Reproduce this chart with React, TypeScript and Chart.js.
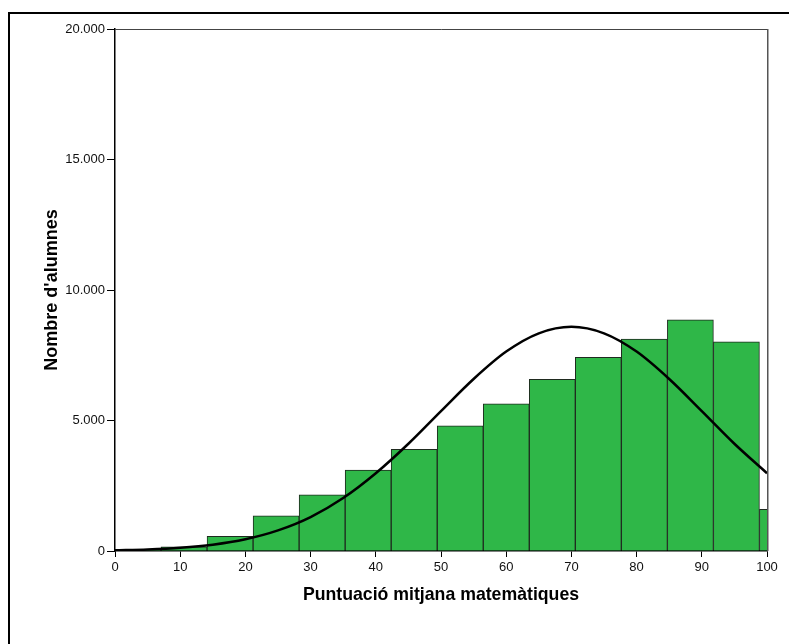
import React, { useEffect, useRef } from 'react';
import { Chart, registerables } from 'chart.js';

Chart.register(...registerables);

// Histogram bins (start of each bin) and counts
const binStarts = [0, 7.06, 14.12, 21.18, 28.24, 35.3, 42.36, 49.42, 56.48, 63.54, 70.6, 77.66, 84.72, 91.78, 98.84];
const binWidth = 7.06;
const binCounts = [30, 160, 560, 1350, 2150, 3100, 3900, 4800, 5640, 6580, 7420, 8120, 8860, 8010, 1600];

// Normal curve
const curveX = [0, 5, 10, 15, 20, 25, 30, 35, 40, 45, 50, 55, 60, 65, 70, 75, 80, 85, 90, 95, 100];
const curveY = [27, 59, 124, 243, 451, 790, 1300, 2030, 2980, 4110, 5360, 6590, 7640, 8340, 8590, 8340, 7640, 6590, 5360, 4110, 2980];

const yTicks = [0, 5000, 10000, 15000, 20000];
const xTicks = [0, 10, 20, 30, 40, 50, 60, 70, 80, 90, 100];

const xTitle = 'Puntuació mitjana matemàtiques';
const yTitle = "Nombre d'alumnes";

const FONT = "'Liberation Sans', Arial, sans-serif";

function fmt(v: number): string {
  const s = Math.round(v).toString();
  return s.replace(/\B(?=(\d{3})+(?!\d))/g, '.');
}

const frameBox = {
  id: 'frameBox',
  afterDatasetsDraw(chart: any) {
    const { ctx, chartArea } = chart;
    ctx.save();
    ctx.strokeStyle = '#444';
    ctx.lineWidth = 1;
    ctx.beginPath();
    ctx.moveTo(chartArea.left, chartArea.top + 0.5);
    ctx.lineTo(chartArea.right + 0.5, chartArea.top + 0.5);
    ctx.stroke();
    ctx.lineWidth = 1.5;
    ctx.strokeStyle = '#555';
    ctx.beginPath();
    ctx.moveTo(chartArea.right + 0.75, chartArea.top);
    ctx.lineTo(chartArea.right + 0.75, chartArea.bottom);
    ctx.stroke();
    ctx.restore();
  },
};

export default function App() {
  const ref = useRef<HTMLCanvasElement | null>(null);

  useEffect(() => {
    if (!ref.current) return;
    const barData = binStarts.map((s, i) => ({ x: s + binWidth / 2, y: binCounts[i] }));
    const lineData = curveX.map((x, i) => ({ x, y: curveY[i] }));

    const chart = new Chart(ref.current, {
      type: 'bar',
      data: {
        datasets: [
          {
            type: 'line',
            data: lineData,
            borderColor: '#000',
            borderWidth: 2.5,
            pointRadius: 0,
            cubicInterpolationMode: 'monotone',
            fill: false,
            order: 0,
          } as any,
          {
            type: 'bar',
            data: barData,
            backgroundColor: 'rgb(47,183,72)',
            borderColor: '#1f2a1f',
            borderWidth: 1,
            barPercentage: 1,
            categoryPercentage: 1,
            grouped: false,
            order: 1,
          } as any,
        ],
      },
      options: {
        responsive: false,
        animation: false,
        devicePixelRatio: 1,
        layout: { padding: { left: 0, top: 29, right: 22, bottom: 0 } },
        plugins: {
          legend: { display: false },
          tooltip: { enabled: false },
        },
        scales: {
          x: {
            type: 'linear',
            min: 0,
            max: 100,
            offset: false,
            afterFit: (s: any) => { s.height = 93; },
            afterBuildTicks: (s: any) => { s.ticks = xTicks.map((v) => ({ value: v })); },
            grid: { display: true, offset: false, drawOnChartArea: false, drawTicks: true, tickLength: 6, color: '#000' },
            border: { display: true, color: '#000', width: 1.5 },
            ticks: {
              color: '#111',
              font: { family: FONT, size: 13 },
              padding: 3,
              maxRotation: 0,
              autoSkip: false,
              callback: (v: any) => String(v),
            },
            title: {
              display: true,
              text: xTitle,
              color: '#000',
              font: { family: FONT, size: 17.7, weight: 'bold' },
              padding: { top: 0, bottom: 38 },
            },
          },
          y: {
            type: 'linear',
            min: 0,
            max: 20000,
            afterFit: (s: any) => { s.width = 115; },
            afterBuildTicks: (s: any) => { s.ticks = yTicks.map((v) => ({ value: v })); },
            grid: { display: true, offset: false, drawOnChartArea: false, drawTicks: true, tickLength: 8, color: '#000' },
            border: { display: true, color: '#000', width: 1.5 },
            ticks: {
              color: '#111',
              font: { family: FONT, size: 13 },
              padding: 2,
              autoSkip: false,
              callback: (v: any) => fmt(Number(v)),
            },
            title: {
              display: true,
              text: yTitle,
              color: '#000',
              font: { family: FONT, size: 18, weight: 'bold' },
              padding: { top: 41.5, bottom: 0 },
            },
          },
        },
      },
      plugins: [frameBox],
    });
    return () => chart.destroy();
  }, []);

  return (
    <>
      <div
        style={{
          position: 'fixed',
          left: 8,
          top: 12,
          width: 820,
          height: 700,
          borderLeft: '2px solid #000',
          borderTop: '2px solid #000',
          boxSizing: 'border-box',
        }}
      />
      <canvas
        ref={ref}
        width={789}
        height={644}
        style={{ position: 'fixed', left: 0, top: 0, width: 789, height: 644, display: 'block' }}
      />
    </>
  );
}
